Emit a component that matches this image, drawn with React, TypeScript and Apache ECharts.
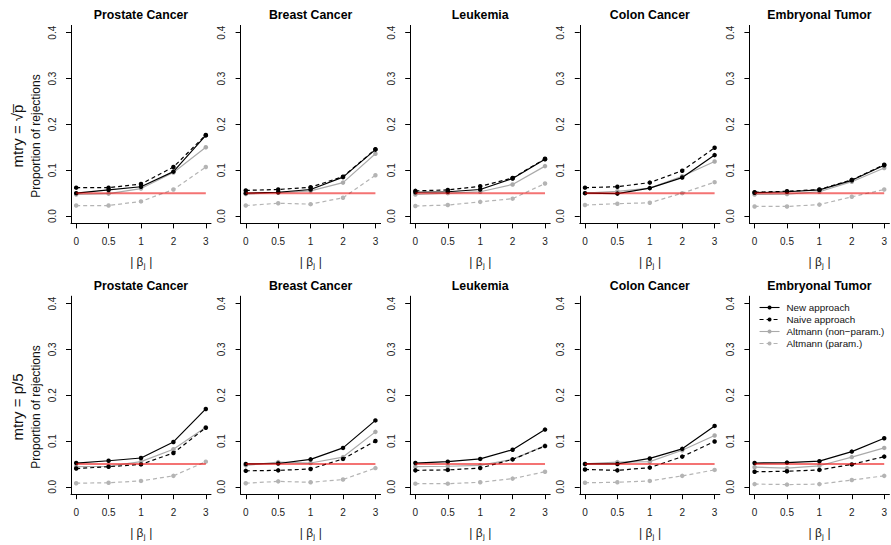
import React, { useEffect, useRef } from "react";
import * as echarts from "echarts";

// ---------- data ----------
const categories = ["0", "0.5", "1", "2", "3"];
const datasets = ["Prostate Cancer", "Breast Cancer", "Leukemia", "Colon Cancer", "Embryonal Tumor"];
const methodNames = ["New approach", "Naive approach", "Altmann (non\u2212param.)", "Altmann (param.)"];
const yTicks = [0, 0.1, 0.2, 0.3, 0.4];
const alphaLevel = 0.05;
const rowLabels = ["mtry = \u221Ap\u0305", "mtry = p/5"];
const yAxisTitle = "Proportion of rejections";

// mtry = sqrt(p): one array per data set
const sqrtNew = [
  [0.050, 0.057, 0.064, 0.097, 0.176],
  [0.050, 0.052, 0.058, 0.085, 0.145],
  [0.052, 0.053, 0.058, 0.082, 0.124],
  [0.050, 0.049, 0.061, 0.084, 0.133],
  [0.051, 0.053, 0.057, 0.078, 0.111],
];
const sqrtNaive = [
  [0.062, 0.062, 0.070, 0.107, 0.177],
  [0.056, 0.058, 0.063, 0.086, 0.146],
  [0.055, 0.057, 0.065, 0.083, 0.125],
  [0.062, 0.064, 0.073, 0.099, 0.149],
  [0.052, 0.054, 0.058, 0.079, 0.112],
];
const sqrtAltNonParam = [
  [0.047, 0.049, 0.060, 0.095, 0.150],
  [0.048, 0.051, 0.055, 0.073, 0.136],
  [0.047, 0.050, 0.053, 0.069, 0.109],
  [0.050, 0.054, 0.061, 0.087, 0.119],
  [0.047, 0.048, 0.053, 0.075, 0.105],
];
const sqrtAltParam = [
  [0.023, 0.023, 0.032, 0.058, 0.107],
  [0.023, 0.028, 0.026, 0.040, 0.089],
  [0.022, 0.024, 0.031, 0.038, 0.071],
  [0.024, 0.027, 0.029, 0.050, 0.074],
  [0.021, 0.021, 0.025, 0.042, 0.058],
];

// mtry = p/5
const p5New = [
  [0.052, 0.057, 0.063, 0.098, 0.170],
  [0.050, 0.051, 0.060, 0.085, 0.145],
  [0.052, 0.055, 0.061, 0.081, 0.125],
  [0.050, 0.050, 0.062, 0.083, 0.133],
  [0.052, 0.053, 0.056, 0.077, 0.106],
];
const p5Naive = [
  [0.040, 0.044, 0.049, 0.074, 0.129],
  [0.035, 0.036, 0.039, 0.061, 0.100],
  [0.036, 0.037, 0.041, 0.060, 0.089],
  [0.038, 0.036, 0.042, 0.066, 0.099],
  [0.033, 0.034, 0.037, 0.049, 0.066],
];
const p5AltNonParam = [
  [0.044, 0.045, 0.055, 0.082, 0.130],
  [0.047, 0.054, 0.052, 0.065, 0.120],
  [0.044, 0.045, 0.047, 0.060, 0.090],
  [0.050, 0.054, 0.055, 0.080, 0.112],
  [0.043, 0.041, 0.046, 0.065, 0.085],
];
const p5AltParam = [
  [0.008, 0.009, 0.013, 0.024, 0.055],
  [0.008, 0.012, 0.010, 0.016, 0.041],
  [0.007, 0.007, 0.010, 0.018, 0.033],
  [0.009, 0.010, 0.013, 0.024, 0.037],
  [0.006, 0.005, 0.006, 0.015, 0.024],
];

// ---------- styling ----------
const FONT = "'Liberation Sans', Arial, Helvetica, sans-serif";
const methodStyles = [
  { color: "#000000", type: "solid" as any },
  { color: "#000000", type: [4, 3] as any },
  { color: "#aaaaaa", type: "solid" as any },
  { color: "#b4b4b4", type: [4, 3] as any },
];
const rowData = [
  [sqrtNew, sqrtNaive, sqrtAltNonParam, sqrtAltParam],
  [p5New, p5Naive, p5AltNonParam, p5AltParam],
];

const COL_LEFT0 = 71;
const COL_STEP = 169.6;
const PLOT_W = 140;
const ROW_TOP = [25.4, 296.2];
const PLOT_H = 198;

function buildOption() {
  const grid: any[] = [];
  const xAxis: any[] = [];
  const yAxis: any[] = [];
  const series: any[] = [];
  const title: any[] = [];
  const graphic: any[] = [];

  const idx = categories.map((_, i) => i);

  for (let r = 0; r < 2; r++) {
    for (let c = 0; c < datasets.length; c++) {
      const g = grid.length;
      const left = COL_LEFT0 + COL_STEP * c;
      const cx = left + PLOT_W / 2;
      grid.push({ left, top: ROW_TOP[r], width: PLOT_W, height: PLOT_H, outerBoundsMode: "none", containLabel: false });
      xAxis.push({
        gridIndex: g,
        type: "value",
        min: -0.16,
        max: 4.16,
        splitLine: { show: false },
        axisLine: { show: true, onZero: false, lineStyle: { color: "#000", width: 1 } },
        axisTick: { show: true, length: 5, customValues: idx, lineStyle: { color: "#000" } },
        axisLabel: {
          customValues: idx,
          formatter: (v: number) => categories[Math.round(v)],
          fontSize: 10,
          fontFamily: FONT,
          color: "#222",
          margin: 13,
        },
      });
      yAxis.push({
        gridIndex: g,
        type: "value",
        min: -0.016,
        max: 0.416,
        splitLine: { show: false },
        axisLine: { show: true, onZero: false, lineStyle: { color: "#000", width: 1 } },
        axisTick: { show: true, length: 5, customValues: yTicks, lineStyle: { color: "#000" } },
        axisLabel: {
          customValues: yTicks,
          formatter: (v: number) => v.toFixed(1),
          rotate: 90,
          fontSize: 10,
          fontFamily: FONT,
          color: "#222",
          margin: 14,
        },
      });
      title.push({
        text: datasets[c],
        left: cx,
        top: ROW_TOP[r] - 16.5,
        textAlign: "center",
        padding: 0,
        textStyle: { fontSize: 12.3, fontWeight: "bold", fontFamily: FONT, color: "#000" },
      });

      // x-axis title |beta_j|
      const ly = ROW_TOP[r] + PLOT_H + 39;
      graphic.push({
        type: "group",
        x: cx + 3,
        y: ly,
        children: [
          {
            type: "text",
            x: -0.5,
            y: 0,
            style: { text: "| \u03B2", fontSize: 12, fontFamily: FONT, fill: "#222", align: "right", verticalAlign: "middle" },
          },
          {
            type: "text",
            x: -0.3,
            y: 3,
            style: { text: "j", fontSize: 8, fontFamily: FONT, fill: "#222", align: "left", verticalAlign: "middle" },
          },
          {
            type: "text",
            x: 1.8,
            y: 0,
            style: { text: " |", fontSize: 12, fontFamily: FONT, fill: "#222", align: "left", verticalAlign: "middle" },
          },
        ],
      });

      rowData[r].forEach((arr, m) => {
        series.push({
          type: "line",
          name: methodNames[m],
          xAxisIndex: g,
          yAxisIndex: g,
          data: arr[c].map((v, i) => [i, v]),
          symbol: "circle",
          symbolSize: 4.5,
          showSymbol: true,
          color: methodStyles[m].color,
          itemStyle: { color: methodStyles[m].color },
          lineStyle: { color: methodStyles[m].color, type: methodStyles[m].type, width: 1.2 },
          z: 10 - m,
          silent: true,
        });
      });
      series.push({
        type: "line",
        name: "alpha",
        xAxisIndex: g,
        yAxisIndex: g,
        data: [
          [0, alphaLevel],
          [categories.length - 1, alphaLevel],
        ],
        symbol: "none",
        lineStyle: { color: "rgba(235,0,0,0.55)", width: 2 },
        z: 20,
        silent: true,
      });
    }

    const cy = r === 0 ? 136 : 407;
    graphic.push({
      type: "text",
      x: 36,
      y: cy,
      rotation: Math.PI / 2,
      style: {
        text: yAxisTitle,
        fontSize: 12,
        fontFamily: FONT,
        fill: "#111",
        align: "center",
        verticalAlign: "middle",
      },
    });
    graphic.push({
      type: "text",
      x: 17,
      y: cy,
      rotation: Math.PI / 2,
      style: {
        text: rowLabels[r],
        fontSize: 15,
        fontFamily: FONT,
        fill: "#111",
        align: "center",
        verticalAlign: "middle",
      },
    });
  }

  const legend = {
    data: methodNames,
    orient: "vertical",
    left: 759,
    top: 301.5,
    padding: 0,
    itemWidth: 20,
    itemHeight: 5,
    itemGap: 0,
    selectedMode: false,
    lineStyle: { width: 1.1 },
    textStyle: { fontSize: 9.8, fontFamily: FONT, color: "#111", lineHeight: 12, padding: [0, 0, 0, 2] },
  };

  return {
    animation: false,
    backgroundColor: "#ffffff",
    title,
    grid,
    xAxis,
    yAxis,
    series,
    legend,
    graphic,
  };
}

export default function App() {
  const ref = useRef<HTMLDivElement | null>(null);
  useEffect(() => {
    if (!ref.current) return;
    const chart = echarts.init(ref.current, undefined, { renderer: "svg" });
    chart.setOption(buildOption() as any);
    return () => chart.dispose();
  }, []);
  return <div ref={ref} style={{ width: 891, height: 545, position: "absolute", left: 0, top: 0 }} />;
}
